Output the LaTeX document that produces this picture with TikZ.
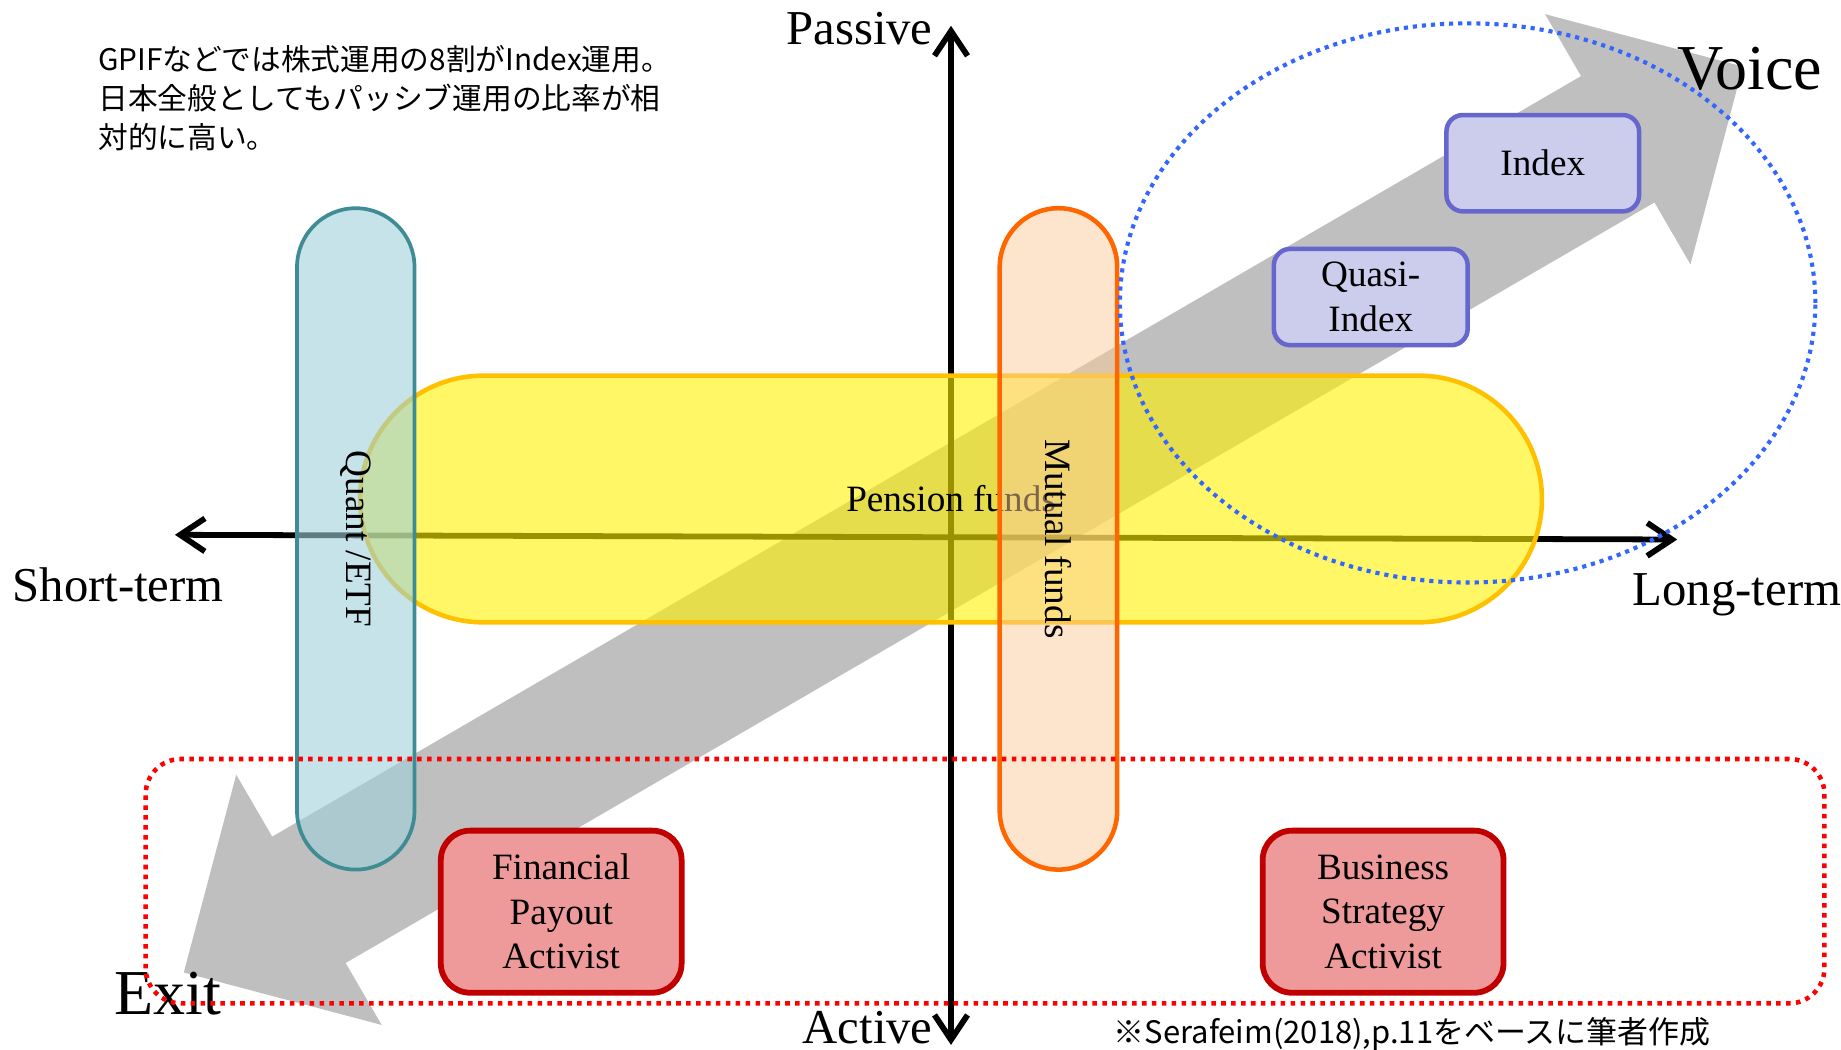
\documentclass[tikz,border=0pt]{standalone}
\usepackage{fontspec}
\setmainfont{Liberation Serif}
\newfontfamily\jpfont{Noto Sans CJK JP}
\usetikzlibrary{arrows.meta, calc, positioning, shapes.geometric, shapes.arrows}
\definecolor{flowgray}{RGB}{191,191,191}
\definecolor{pensionline}{RGB}{255,192,0}
\definecolor{quantfill}{RGB}{158,208,217}
\definecolor{quantline}{RGB}{63,140,148}
\definecolor{mutualfill}{RGB}{251,203,155}
\definecolor{mutualline}{RGB}{255,102,0}
\definecolor{indexfill}{RGB}{204,204,236}
\definecolor{indexline}{RGB}{102,102,204}
\definecolor{activistfill}{RGB}{239,154,154}
\definecolor{activistline}{RGB}{192,0,0}
\definecolor{exitred}{RGB}{255,0,0}
\definecolor{voiceblue}{RGB}{51,102,255}

\begin{document}
\begin{tikzpicture}[x=0.01cm, y=-0.01cm, >={Straight Barb[length=6pt,width=8pt]}]
    \tikzstyle{axisline} = [line width=1.4pt, line cap=round, <->]
    \tikzstyle{band} = [rectangle, rounded corners=0.5cm, text opacity=1,
        font=\fontsize{9pt}{10.8pt}\selectfont]
    \tikzstyle{fundbox} = [rectangle, rounded corners=0.14cm, draw=indexline, fill=indexfill,
        line width=1.1pt, inner sep=1pt, align=center, font=\fontsize{9pt}{10.8pt}\selectfont]
    \tikzstyle{activist} = [rectangle, rounded corners=0.25cm, draw=activistline, fill=activistfill,
        line width=1.4pt, align=center, font=\fontsize{9pt}{10.8pt}\selectfont]
    \tikzstyle{zone} = [line width=1.1pt, dash pattern=on 1.1pt off 1.3pt]
    \tikzstyle{axistext} = [inner sep=0pt, font=\fontsize{11.8pt}{14pt}\selectfont]
    \tikzstyle{bigtext} = [inner sep=0pt, font=\fontsize{15.5pt}{18pt}\selectfont]
    \tikzstyle{jpnote} = [inner sep=0pt, align=left, font=\jpfont\fontsize{7.2pt}{9.4pt}\selectfont]
    \useasboundingbox (0,0) rectangle (1568,894);

    \node [double arrow, fill=flowgray, rotate=30.16, minimum height=15.35cm, minimum width=0pt,
        inner xsep=0pt, inner ysep=0.615cm, double arrow head extend=0.61cm] (flow) at (820.5,442.5) {};

    \coordinate (passend) at (810,22);
    \coordinate (actend) at (810,890);
    \coordinate (shortend) at (149,455.5);
    \coordinate (longend) at (1428.5,459.5);
    \draw [axisline] (actend) -- (passend);
    \draw [axisline] (shortend) -- (longend);

    \node [band, draw=pensionline, fill=yellow, fill opacity=0.6, line width=1.1pt,
        minimum width=10.06cm, minimum height=2.1cm, rounded corners=1.05cm] (pension) at (810,425) {Pension funds};
    \node [band, draw=quantline, fill=quantfill, fill opacity=0.6, line width=0.9pt,
        minimum width=5.63cm, minimum height=1cm, rotate=-90] (quant) at (303,459) {Quant /ETF};
    \node [band, draw=mutualline, fill=mutualfill, fill opacity=0.5, line width=1.1pt,
        minimum width=5.63cm, minimum height=1cm, rotate=-90] (mutual) at (901.5,459) {Mutual funds};

    \node [fundbox, minimum width=1.64cm, minimum height=0.82cm] (index) at (1314,139) {Index};
    \node [fundbox, minimum width=1.65cm, minimum height=0.82cm] (quasi) at (1167.5,253) {Quasi-\\Index};
    \node [activist, minimum width=2.05cm, minimum height=1.38cm] (payout) at (478,776.5) {Financial\\Payout\\Activist};
    \node [activist, minimum width=2.05cm, minimum height=1.38cm] (strategy) at (1178,776.5) {Business\\Strategy\\Activist};

    \node [axistext, anchor=base east] (passive) at (795,38) {Passive};
    \node [axistext, anchor=base east] (active) at (795,889) {Active};
    \node [axistext, anchor=base west] (shortterm) at (10,512) {Short-term};
    \node [axistext, anchor=base west] (longterm) at (1390,516) {Long-term};
    \node [bigtext, anchor=base west] (voice) at (1428,76) {Voice};
    \node [bigtext, anchor=base west] (exit) at (97,864) {Exit};

    \node [zone, draw=exitred, rectangle, rounded corners=0.3cm, minimum width=14.29cm,
        minimum height=2.08cm] (exitzone) at (839,750.5) {};
    \node [zone, draw=voiceblue, ellipse, line width=1pt, dash pattern=on 1pt off 1.2pt,
        minimum width=5.92cm, minimum height=4.76cm] (voicezone) at (1250,258) {};

    \node [jpnote, anchor=north west] (note) at (83,38) {GPIFなどでは株式運用の8割がIndex運用。\\日本全般としてもパッシブ運用の比率が相\\対的に高い。};
    \node [jpnote, anchor=base west, font=\jpfont\fontsize{7.5pt}{9pt}\selectfont] (source) at (948,889) {※Serafeim(2018),p.11をベースに筆者作成};
\end{tikzpicture}
\end{document}
